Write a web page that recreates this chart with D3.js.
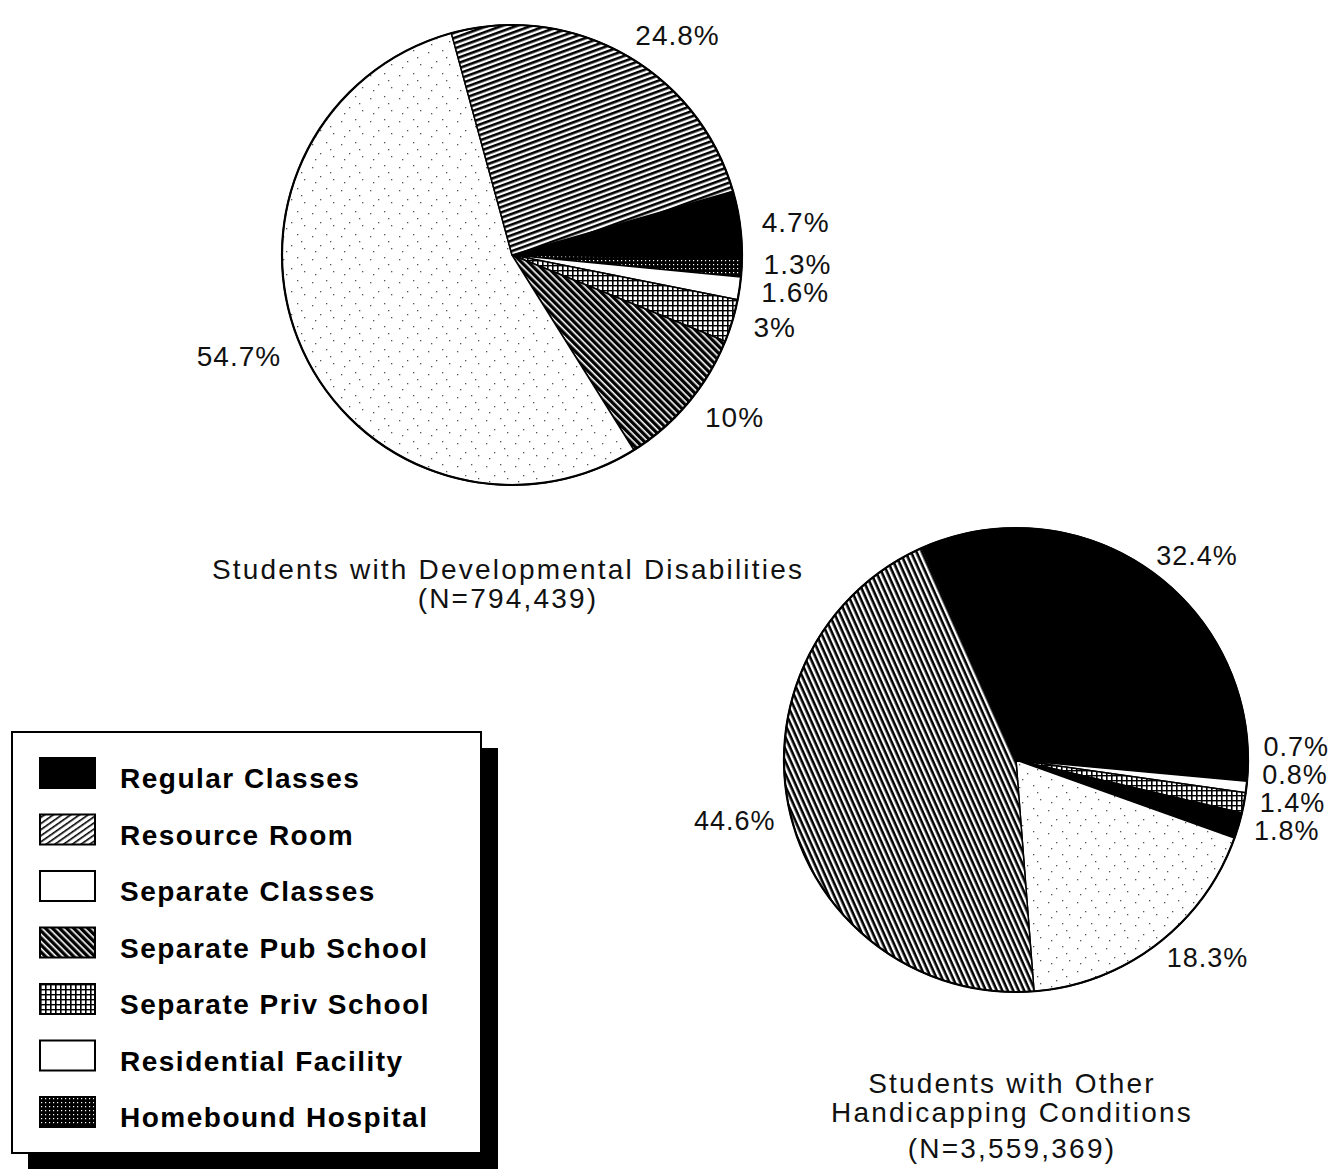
<!DOCTYPE html>
<html lang="en">
  <head>
    <meta charset="UTF-8" />
    <title>Educational placement pies</title>
    <script src="https://d3js.org/d3.v7.min.js"></script>
    <style>
      body { margin: 0; background: #fff; }
      svg { display: block; }
      .pct { font-family: "Liberation Sans", Arial, sans-serif; fill: #111; }
      .title { font-family: "Liberation Sans", Arial, sans-serif; font-size: 28px; fill: #111; letter-spacing: 2.2px; }
      .legend text { font-family: "Liberation Sans", Arial, sans-serif; font-weight: bold; font-size: 28px; fill: #000; letter-spacing: 1.5px; }
    </style>
  </head>
  <body>
    <svg id="chart"></svg>
    <script>
      // categories in legend order
      const categories = [
        "Regular Classes",
        "Resource Room",
        "Separate Classes",
        "Separate Pub School",
        "Separate Priv School",
        "Residential Facility",
        "Homebound Hospital"
      ];
      // percentages, same order as categories
      const devValues = [4.7, 24.8, 54.7, 10, 3, 1.6, 1.3];
      const otherValues = [32.4, 44.6, 18.3, 1.8, 1.4, 0.8, 0.7];

      const devTitle = ["Students with Developmental Disabilities", "(N=794,439)"];
      const otherTitle = ["Students with Other", "Handicapping Conditions", "(N=3,559,369)"];

      // slices run clockwise: Regular first, then the rest of the legend backwards
      const drawOrder = [0, 6, 5, 4, 3, 2, 1];

      const WIDTH = 1333;
      const HEIGHT = 1169;
      const deg = Math.PI / 180;

      const svg = d3.select("#chart").attr("width", WIDTH).attr("height", HEIGHT);
      svg.append("rect").attr("width", WIDTH).attr("height", HEIGHT).attr("fill", "#fff");

      // ---- fill patterns ----
      const defs = svg.append("defs");

      function linePattern(id, angle, period, lineW, bg, fg) {
        const p = defs.append("pattern")
          .attr("id", id)
          .attr("patternUnits", "userSpaceOnUse")
          .attr("width", period).attr("height", period)
          .attr("patternTransform", `rotate(${angle})`);
        p.append("rect").attr("width", period).attr("height", period).attr("fill", bg);
        p.append("rect").attr("y", 0).attr("width", period).attr("height", lineW).attr("fill", fg);
      }

      linePattern("res1", -20, 5, 2.6, "#fff", "#000");
      linePattern("res2", 66, 5, 2.6, "#fff", "#000");
      linePattern("resLeg", -35, 5, 1.6, "#fff", "#000");
      linePattern("pub", 45, 5, 1.6, "#000", "#fff");

      const priv = defs.append("pattern")
        .attr("id", "priv").attr("patternUnits", "userSpaceOnUse")
        .attr("width", 5).attr("height", 5);
      priv.append("rect").attr("width", 5).attr("height", 5).attr("fill", "#fff");
      priv.append("rect").attr("x", 0).attr("width", 1.6).attr("height", 5).attr("fill", "#000");
      priv.append("rect").attr("y", 0).attr("width", 5).attr("height", 1.4).attr("fill", "#000");

      const home = defs.append("pattern")
        .attr("id", "home").attr("patternUnits", "userSpaceOnUse")
        .attr("width", 4).attr("height", 4);
      home.append("rect").attr("width", 4).attr("height", 4).attr("fill", "#000");
      home.append("rect").attr("x", 1).attr("y", 1).attr("width", 1.2).attr("height", 1.2).attr("fill", "#fff");

      const stip = defs.append("pattern")
        .attr("id", "stip").attr("patternUnits", "userSpaceOnUse")
        .attr("width", 29).attr("height", 23);
      stip.append("rect").attr("width", 29).attr("height", 23).attr("fill", "#fff");
      [[3, 4], [17, 2], [11, 13], [24, 16], [6, 19], [21, 9]].forEach(([x, y]) => {
        stip.append("rect").attr("x", x).attr("y", y).attr("width", 1.3).attr("height", 1.3).attr("fill", "#555");
      });

      const fills1 = ["#000", "url(#res1)", "url(#stip)", "url(#pub)", "url(#priv)", "#fff", "url(#home)"];
      const fills2 = ["#000", "url(#res2)", "url(#stip)", "#000", "url(#priv)", "#fff", "#000"];
      const legendFills = ["#000", "url(#resLeg)", "#fff", "url(#pub)", "url(#priv)", "#fff", "url(#home)"];

      // ---- pies ----
      function drawPie(values, fills, cx, cy, R, a0, opts) {
        const data = drawOrder.map((i) => ({ cat: categories[i], value: values[i], fill: fills[i] }));
        const arcs = d3.pie().sort(null).value((d) => d.value)
          .startAngle(a0).endAngle(a0 + 2 * Math.PI)(data);
        const arc = d3.arc().innerRadius(0).outerRadius(R);
        const g = svg.append("g").attr("transform", `translate(${cx},${cy})`);

        g.selectAll("path.slice")
          .data(arcs)
          .join("path")
          .attr("class", "slice")
          .attr("d", arc)
          .attr("fill", (d) => d.data.fill)
          .attr("stroke", "#000")
          .attr("stroke-width", 1.5)
          .attr("stroke-linejoin", "round");

        g.append("circle").attr("r", R).attr("fill", "none").attr("stroke", "#000").attr("stroke-width", 2.2);

        // label positions; crowded labels on a side get pushed upward
        const rl = R + opts.offset;
        const labels = arcs.map((d) => {
          const m = (d.startAngle + d.endAngle) / 2;
          return {
            text: `${d.data.value}%`,
            x: rl * Math.sin(m),
            y: -rl * Math.cos(m),
            side: Math.sin(m) >= 0 ? 1 : -1
          };
        });
        const gap = 28;
        [1, -1].forEach((side) => {
          const list = labels.filter((l) => l.side === side).sort((a, b) => b.y - a.y);
          for (let k = 1; k < list.length; k++) {
            if (list[k - 1].y - list[k].y < gap) list[k].y = list[k - 1].y - gap;
          }
        });

        g.selectAll("text.pct")
          .data(labels)
          .join("text")
          .attr("class", "pct")
          .style("font-size", opts.size + "px")
          .style("letter-spacing", opts.spacing + "px")
          .attr("x", (d) => d.x)
          .attr("y", (d) => d.y)
          .attr("dy", "0.36em")
          .attr("text-anchor", (d) => (d.side > 0 ? "start" : "end"))
          .text((d) => d.text);
      }

      drawPie(devValues, fills1, 512, 255, 230, 73.9 * deg, { offset: 22, size: 28, spacing: 1 });
      drawPie(otherValues, fills2, 1016, 760, 232, -23.9 * deg, { offset: 16, size: 27, spacing: 1 });

      // ---- titles ----
      function drawTitle(lines, cx, baselines) {
        svg.append("g").selectAll("text")
          .data(lines)
          .join("text")
          .attr("class", "title")
          .attr("x", cx)
          .attr("y", (d, i) => baselines[i])
          .attr("text-anchor", "middle")
          .text((d) => d);
      }
      drawTitle(devTitle, 508, [579, 608]);
      drawTitle(otherTitle, 1012, [1093, 1122, 1158]);

      // ---- legend ----
      const legend = svg.append("g").attr("class", "legend");
      legend.append("rect")
        .attr("x", 28).attr("y", 748).attr("width", 470).attr("height", 421)
        .attr("fill", "#000");
      legend.append("rect")
        .attr("x", 12).attr("y", 732).attr("width", 469).attr("height", 421)
        .attr("fill", "#fff").attr("stroke", "#000").attr("stroke-width", 2);

      const rowY = d3.scalePoint().domain(categories).range([758, 1097]);

      const rows = legend.selectAll("g.row")
        .data(categories)
        .join("g")
        .attr("class", "row")
        .attr("transform", (d) => `translate(0,${rowY(d)})`);

      rows.append("rect")
        .attr("x", 40).attr("y", 0).attr("width", 55).attr("height", 30)
        .attr("fill", (d, i) => legendFills[i])
        .attr("stroke", "#000").attr("stroke-width", 2);

      rows.append("text")
        .attr("x", 120).attr("y", 30)
        .text((d) => d);
    </script>
  </body>
</html>
